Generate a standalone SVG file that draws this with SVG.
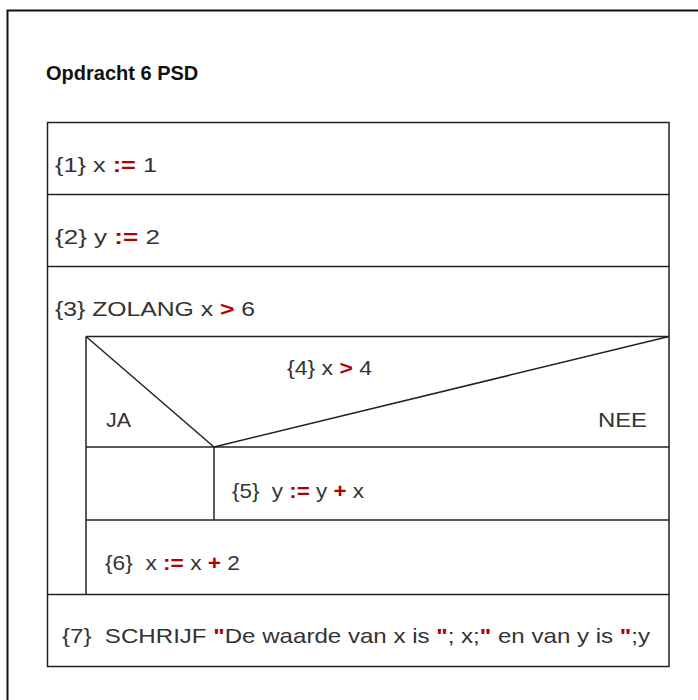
<svg xmlns="http://www.w3.org/2000/svg" width="698" height="700" viewBox="0 0 698 700">
<style>
.t{font-family:"Liberation Sans",Arial,sans-serif;font-size:21px;fill:#333;white-space:pre}
.op{fill:#b00000;font-weight:bold}
.title{font-family:"Liberation Sans",Arial,sans-serif;font-size:20px;font-weight:bold;fill:#111}
.ln{stroke:#222;stroke-width:1.5;fill:none}
</style>
<rect x="0" y="0" width="698" height="700" fill="#fff"/>
<path d="M7.5,700 V10.5 H698" fill="none" stroke="#111" stroke-width="2"/>
<text class="title" x="46" y="80">Opdracht 6 PSD</text>
<g id="psd">
<rect class="ln" x="47.5" y="122.5" width="621.5" height="544"/>
<g id="s1"><line class="ln" x1="47.5" y1="194.5" x2="669" y2="194.5"/><text class="t" x="55" y="172" textLength="102" lengthAdjust="spacingAndGlyphs">{1} x <tspan class="op">:=</tspan> 1</text></g>
<g id="s2"><line class="ln" x1="47.5" y1="266.5" x2="669" y2="266.5"/><text class="t" x="55" y="244" textLength="105" lengthAdjust="spacingAndGlyphs">{2} y <tspan class="op">:=</tspan> 2</text></g>
<g id="s3"><text class="t" x="55" y="316" textLength="200" lengthAdjust="spacingAndGlyphs">{3} ZOLANG x <tspan class="op">&gt;</tspan> 6</text>
<line class="ln" x1="86" y1="336.5" x2="86" y2="594.5"/></g>
<g id="s4"><line class="ln" x1="86" y1="336.5" x2="669" y2="336.5"/>
<line class="ln" x1="86" y1="336.5" x2="214" y2="447"/>
<line class="ln" x1="214" y1="447" x2="669" y2="336.5"/>
<line class="ln" x1="86" y1="447" x2="669" y2="447"/>
<line class="ln" x1="214" y1="447" x2="214" y2="520"/>
<text class="t" x="287" y="375" textLength="85" lengthAdjust="spacingAndGlyphs">{4} x <tspan class="op">&gt;</tspan> 4</text>
<text class="t" x="106" y="427" textLength="25" lengthAdjust="spacingAndGlyphs">JA</text>
<text class="t" x="598" y="427" textLength="49" lengthAdjust="spacingAndGlyphs">NEE</text></g>
<g id="s5"><line class="ln" x1="86" y1="520" x2="669" y2="520"/><text class="t" x="232" y="498" textLength="132" lengthAdjust="spacingAndGlyphs">{5}  y <tspan class="op">:=</tspan> y <tspan class="op">+</tspan> x</text></g>
<g id="s6"><line class="ln" x1="47.5" y1="594.5" x2="669" y2="594.5"/><text class="t" x="105" y="570" textLength="135" lengthAdjust="spacingAndGlyphs">{6}  x <tspan class="op">:=</tspan> x <tspan class="op">+</tspan> 2</text></g>
<g id="s7"><text class="t" x="62" y="643" textLength="588" lengthAdjust="spacingAndGlyphs">{7}  SCHRIJF <tspan class="op">"</tspan>De waarde van x is <tspan class="op">"</tspan>; x;<tspan class="op">"</tspan> en van y is <tspan class="op">"</tspan>;y</text></g>
</g>
</svg>
